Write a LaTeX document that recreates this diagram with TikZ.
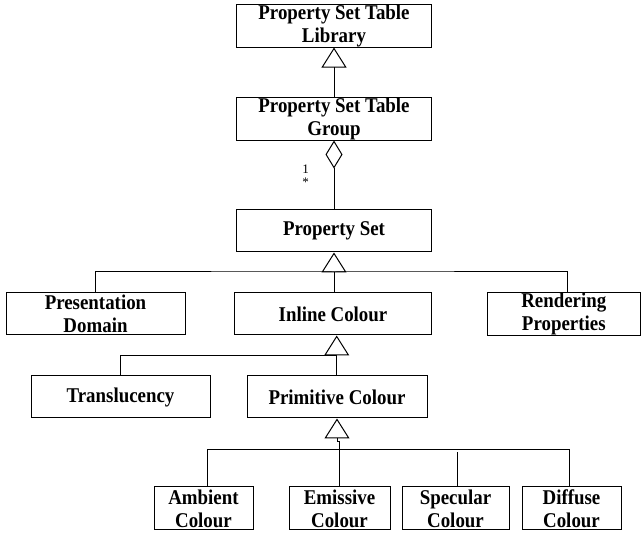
\documentclass[tikz,border=0pt]{standalone}
\usepackage{fontspec}
\setmainfont{Liberation Serif}
\newfontfamily\clsfont{Liberation Serif}[FakeStretch=0.9]
\usetikzlibrary{arrows.meta}
\begin{document}
\begin{tikzpicture}[x=1pt,y=-1pt,
  line width=1pt,
  cls/.style={draw, line width=1pt, minimum height=42pt, inner sep=0pt,
    align=center, font=\clsfont\fontsize{21}{23}\selectfont\bfseries},
  gen/.style={-{Triangle[open,length=20pt,width=25pt,line width=1pt]}},
  agg/.style={{Diamond[open,length=28pt,width=17pt,line width=1pt]}-},
  mult/.style={inner sep=0pt, font=\fontsize{13}{13}\selectfont}]
\useasboundingbox (0,0) rectangle (641,534);

% class boxes
\node[cls, minimum width=195pt] (lib)  at (334,26)    {Property Set Table\\Library};
\node[cls, minimum width=195pt] (grp)  at (334,119)   {Property Set Table\\Group};
\node[cls, minimum width=195pt] (pset) at (334,231)   {Property Set};
\node[cls, minimum width=179pt] (pres) at (95.5,314)  {Presentation\\Domain};
\node[cls, minimum width=197pt] (inl)  at (333,314)   {Inline Colour};
\node[cls, minimum width=153pt] (rend) at (563.8,314) {Rendering\\Properties};
\node[cls, minimum width=179pt] (trans) at (120.5,397) {Translucency};
\node[cls, minimum width=180pt] (prim) at (337,397)   {Primitive Colour};
\node[cls, minimum width=99pt, minimum height=43pt]  (amb)  at (203.5,508.5) {Ambient\\Colour};
\node[cls, minimum width=101pt, minimum height=43pt] (emi)  at (339.5,508.5) {Emissive\\Colour};
\node[cls, minimum width=107pt, minimum height=43pt] (spec) at (455.5,508.5) {Specular\\Colour};
\node[cls, minimum width=99pt, minimum height=43pt]  (diff) at (571.5,508.5) {Diffuse\\Colour};

% multiplicity
\node[mult] (m1) at (305.5,169) {1};
\node[mult] (m2) at (305.5,182.5) {*};

% library <- group
\draw[gen] (grp.north) -- (lib.south);
% group <>- property set
\draw[agg] (grp.south) -- (pset.north);

% property set hierarchy
\coordinate (j1) at (334,272);
\draw (pres.north -| 95.7,0) |- (j1) -| (rend.north -| 567.7,0);
\draw (inl.north -| j1) -- (j1);
\draw[gen] (j1) -- (pset.south);

% inline colour hierarchy
\coordinate (j2) at (336.7,356);
\draw (trans.north) |- (j2);
\draw (prim.north -| j2) -- (j2);
\draw[gen] (j2) -- (inl.south -| j2);

% primitive colour hierarchy
\coordinate (bL) at (207,449.5);
\coordinate (bR) at (569,449.5);
\draw (amb.north -| bL) -- (bL) -- (bR) -- (diff.north -| bR);
\draw (spec.north -| 457,0) -- ++(0,-34);
\coordinate (k1) at (339.3,441.7);
\coordinate (k2) at (337,441.7);
\draw (emi.north -| k1) -- (k1) -- (k2);
\draw[gen] (k2) -- (prim.south -| k2);
\end{tikzpicture}
\end{document}
